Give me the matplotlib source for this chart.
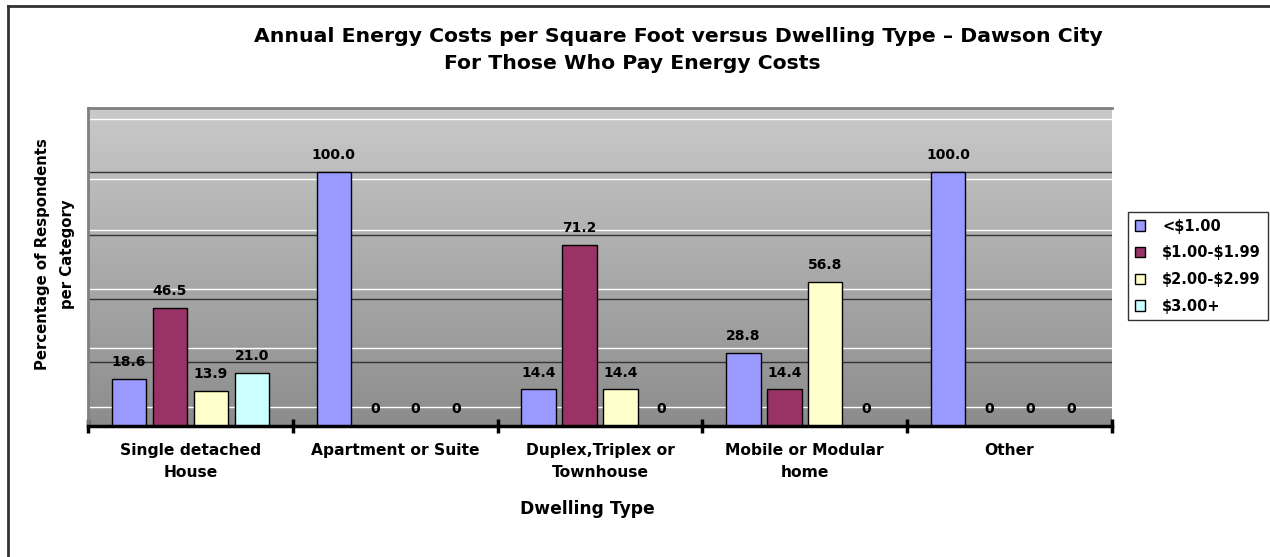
import numpy as np
import matplotlib
matplotlib.use("Agg")
import matplotlib.pyplot as plt
from matplotlib.lines import Line2D

# ---- data -------------------------------------------------------------
categories = ["Single detached\nHouse", "Apartment or Suite",
              "Duplex,Triplex or\nTownhouse", "Mobile or Modular\nhome", "Other"]
series_names = ["<$1.00", "$1.00-$1.99", "$2.00-$2.99", "$3.00+"]
under_1 = [18.6, 100.0, 14.4, 28.8, 100.0]
from_1_to_2 = [46.5, 0, 71.2, 14.4, 0]
from_2_to_3 = [13.9, 0, 14.4, 56.8, 0]
over_3 = [21.0, 0, 0, 0, 0]
series_values = [under_1, from_1_to_2, from_2_to_3, over_3]
series_colors = ["#9999FF", "#993366", "#FFFFCC", "#CCFFFF"]

title_line1 = "Annual Energy Costs per Square Foot versus Dwelling Type \u2013 Dawson City"
title_line2 = "For Those Who Pay Energy Costs"
y_label = "Percentage of Respondents\nper Category"
x_label = "Dwelling Type"

# ---- figure -----------------------------------------------------------
plt.rcParams["font.family"] = "DejaVu Sans"
plt.rcParams["font.weight"] = "bold"

W, H = 1270, 557
fig = plt.figure(figsize=(W / 100, H / 100), dpi=100)
fig.patch.set_facecolor("white")

def fx(px):
    return px / W

def fy(py):
    return 1 - py / H

ax_left, ax_right, ax_top, ax_bottom = 88, 1112, 108, 426
ax = fig.add_axes([fx(ax_left), fy(ax_bottom), fx(ax_right - ax_left),
                   (ax_bottom - ax_top) / H])

n_cat = len(categories)
ymax = 125
ax.set_xlim(0, n_cat)
ax.set_ylim(0, ymax)

# gradient plot-area fill
grad = np.linspace(0, 1, 256).reshape(-1, 1)
top_c = np.array([0.79, 0.79, 0.79])
bot_c = np.array([0.55, 0.55, 0.55])
img = top_c[None, None, :] * (1 - grad[:, :, None]) + bot_c[None, None, :] * grad[:, :, None]
ax.imshow(img, extent=[0, n_cat, 0, ymax], aspect="auto", zorder=0,
          interpolation="bicubic")

# light texture lines of the fill (axes fraction)
texture_rows = [0.966, 0.776, 0.617, 0.432, 0.245, 0.060]
for r in texture_rows:
    ax.axhline(r * ymax, color="white", lw=1.0, zorder=1)

# gridlines
for g in [25, 50, 75, 100]:
    ax.axhline(g, color="#333333", lw=1.0, zorder=1.5)

# bars
step = 0.2
width = 0.168
x = np.arange(n_cat) + 0.5
for j, (vals, col) in enumerate(zip(series_values, series_colors)):
    xs = x + (j - 1.5) * step
    ax.bar(xs, vals, width=width, color=col, edgecolor="black", linewidth=1.0,
           zorder=3, label=series_names[j].replace("$", r"\$"))
    for xi, v in zip(xs, vals):
        txt = "0" if v == 0 else f"{v:.1f}"
        ax.annotate(txt, (xi, v), xytext=(0, 7), textcoords="offset points",
                    ha="center", va="bottom", fontsize=10, fontweight="bold",
                    zorder=4)

# axes frame: grey left/top, black base axis
ax.spines["right"].set_visible(False)
ax.spines["left"].set_color("#808080")
ax.spines["left"].set_linewidth(2)
ax.spines["top"].set_color("#808080")
ax.spines["top"].set_linewidth(2)
ax.spines["bottom"].set_color("black")
ax.spines["bottom"].set_linewidth(2.5)
ax.spines["bottom"].set_zorder(5)
ax.set_yticks([])
ax.set_xticks(np.arange(n_cat + 1))
ax.set_xticklabels([])
ax.tick_params(axis="x", direction="inout", length=10, width=2.5, color="black")

# category labels
for xi, lab in zip(x, categories):
    ax.text(xi, -0.055, lab, transform=ax.get_xaxis_transform(), ha="center",
            va="top", fontsize=11.2, fontweight="bold", linespacing=1.55)

# titles and axis labels
fig.text(fx(678), fy(42), title_line1, ha="center", va="baseline",
         fontsize=14.7, fontweight="bold")
fig.text(fx(632), fy(69), title_line2, ha="center", va="baseline",
         fontsize=14.7, fontweight="bold")
fig.text(fx(587), fy(514), x_label, ha="center", va="baseline",
         fontsize=12.3, fontweight="bold")
fig.text(fx(55), fy(254), y_label, ha="center", va="center", rotation=90,
         fontsize=10.7, fontweight="bold", linespacing=1.8)

# legend
leg = fig.legend(loc="upper left", bbox_to_anchor=(fx(1128), fy(212)),
                 frameon=True, fancybox=False, edgecolor="black",
                 prop={"size": 10.5, "weight": "bold"}, handlelength=0.7,
                 handleheight=0.7, handletextpad=1.2, labelspacing=0.8,
                 borderpad=0.45, borderaxespad=0)
leg.get_frame().set_linewidth(1.0)

# outer chart border (left and top)
fig.add_artist(Line2D([fx(7.5), fx(7.5)], [0, fy(5.5)], color="#333333", lw=2,
                      transform=fig.transFigure))
fig.add_artist(Line2D([fx(7.5), 1], [fy(5.5), fy(5.5)], color="#333333", lw=2,
                      transform=fig.transFigure))

fig.savefig("out.png", dpi=100)
